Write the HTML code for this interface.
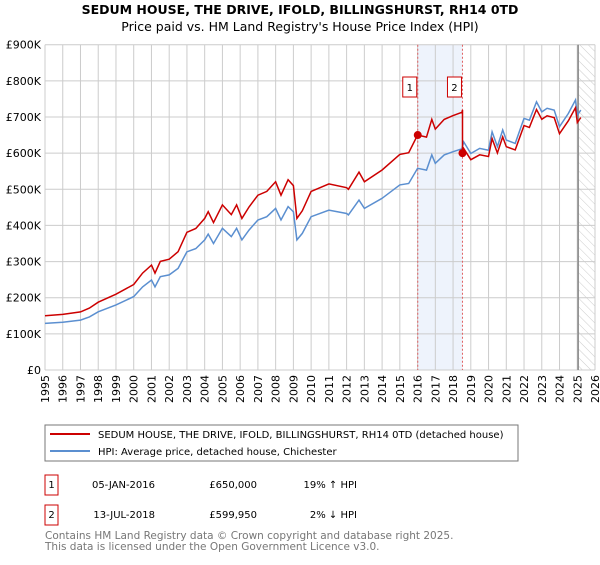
<!DOCTYPE html>
<html><head><meta charset="utf-8"><style>
body{margin:0;background:#fff;font-family:"Liberation Sans","DejaVu Sans",sans-serif;}
svg text{font-family:"DejaVu Sans","Liberation Sans",sans-serif;}
</style></head><body>
<svg id="c" width="600" height="560" xmlns="http://www.w3.org/2000/svg">
<defs><pattern id="hatch" width="6" height="6" patternUnits="userSpaceOnUse" patternTransform="rotate(-45)"><line x1="0" y1="0" x2="0" y2="6" stroke="#ccc" stroke-width="1"/></pattern></defs>
<text x="300" y="14" text-anchor="middle" font-size="12.5" font-weight="bold">SEDUM HOUSE, THE DRIVE, IFOLD, BILLINGSHURST, RH14 0TD</text>
<text x="300" y="31" text-anchor="middle" font-size="12.5">Price paid vs. HM Land Registry's House Price Index (HPI)</text>
<g id="grid"></g>
<g id="marks"></g>
<g>
<rect x="45" y="425" width="473" height="36" fill="#fff" stroke="#777"/>
<line x1="50" y1="434" x2="90" y2="434" stroke="#cc0000" stroke-width="2"/>
<text x="98" y="438" font-size="10">SEDUM HOUSE, THE DRIVE, IFOLD, BILLINGSHURST, RH14 0TD (detached house)</text>
<line x1="50" y1="451" x2="90" y2="451" stroke="#5b8fd0" stroke-width="2"/>
<text x="98" y="455" font-size="10">HPI: Average price, detached house, Chichester</text>
</g>
<g font-size="10">
<rect x="45" y="475" width="13" height="20" fill="#fff" stroke="#cc0000"/><text x="51.5" y="488" text-anchor="middle">1</text>
<text x="155" y="488" text-anchor="end">05-JAN-2016</text><text x="257" y="488" text-anchor="end">£650,000</text><text x="357" y="488" text-anchor="end">19% ↑ HPI</text>
<rect x="45" y="505" width="13" height="20" fill="#fff" stroke="#cc0000"/><text x="51.5" y="518" text-anchor="middle">2</text>
<text x="155" y="518" text-anchor="end">13-JUL-2018</text><text x="257" y="518" text-anchor="end">£599,950</text><text x="357" y="518" text-anchor="end">2% ↓ HPI</text>
</g>
<text x="45" y="539" font-size="10.5" fill="#777">Contains HM Land Registry data © Crown copyright and database right 2025.</text>
<text x="45" y="550" font-size="10.5" fill="#777">This data is licensed under the Open Government Licence v3.0.</text>
</svg>
<script>
const hpiYears=[1995,1996,1997,1997.5,1998,1999,2000,2000.5,2001,2001.2,2001.5,2002,2002.5,2003,2003.5,2004,2004.2,2004.5,2005,2005.5,2005.8,2006.1,2006.5,2007,2007.5,2008,2008.3,2008.7,2009,2009.2,2009.5,2010,2011,2012,2012.1,2012.7,2013,2014,2015,2015.5,2016,2016.5,2016.8,2017,2017.5,2018,2018.5,2018.6,2019,2019.5,2020,2020.2,2020.5,2020.8,2021,2021.5,2022,2022.3,2022.7,2023,2023.3,2023.7,2024,2024.5,2024.9,2025,2025.2];
const hpiValues=[129,132,138,147,161,180,203,230,249,230,258,263,281,327,336,360,376,350,392,369,392,360,387,415,424,447,415,452,438,360,378,424,442,433,429,470,447,475,512,516,558,553,595,572,595,604,612,631,599,613,608,659,618,664,636,627,696,691,742,714,724,719,673,710,747,705,719];
const saleYears=[2016.01,2018.53];
const salePrices=[650,600];
const saleLabels=["1","2"];
const yTicks=[0,100,200,300,400,500,600,700,800,900];
const yTickLabels=["£0","£100K","£200K","£300K","£400K","£500K","£600K","£700K","£800K","£900K"];
const xTicks=[1995,1996,1997,1998,1999,2000,2001,2002,2003,2004,2005,2006,2007,2008,2009,2010,2011,2012,2013,2014,2015,2016,2017,2018,2019,2020,2021,2022,2023,2024,2025,2026];
const X0=45,X1=595,Y0=370,Y1=44.7;
const xs=y=>X0+(y-1995)/31*(X1-X0);
const ys=v=>Y0-v/900*(Y0-Y1);
const NS="http://www.w3.org/2000/svg";
function mk(t,a,p){const e=document.createElementNS(NS,t);for(const k in a)e.setAttribute(k,a[k]);p.appendChild(e);return e;}
const g=document.getElementById('grid'),m=document.getElementById('marks');
const band=mk('rect',{x:xs(saleYears[0]),y:Y1,width:xs(saleYears[1])-xs(saleYears[0]),height:Y0-Y1,fill:'#eef3fc'},g);


const hat=mk('rect',{x:xs(2025.05),y:Y1,width:X1-xs(2025.05),height:Y0-Y1,fill:'url(#hatch)'},g);


yTicks.forEach((v,i)=>{
 const l=mk('line',{x1:X0,x2:X1,y1:ys(v),y2:ys(v),stroke:'#ccc'},g);
 
 
 const t=mk('text',{x:X0-4,y:ys(v)+4,'text-anchor':'end','font-size':'11'},g);
 t.textContent=yTickLabels[i];
 
 
});
xTicks.forEach(v=>{
 const l=mk('line',{x1:xs(v),x2:xs(v),y1:Y1,y2:Y0,stroke:'#ccc'},g);
 
 
 const t=mk('text',{x:0,y:0,'text-anchor':'end','font-size':'11',transform:'translate('+(xs(v)+4)+',375) rotate(-90)'},g);
 t.textContent=v;
 
 
});
const vl=mk('line',{x1:xs(2025.05),x2:xs(2025.05),y1:Y1,y2:Y0,stroke:'#888','stroke-width':1.5},g);


saleYears.forEach((sy,i)=>{
 const l=mk('line',{x1:xs(sy),x2:xs(sy),y1:Y1,y2:Y0,stroke:'#e06060','stroke-dasharray':'2,2'},m);
 
 
});
function hpiAt(y){for(let i=1;i<hpiYears.length;i++)if(y<=hpiYears[i]){const t=(y-hpiYears[i-1])/(hpiYears[i]-hpiYears[i-1]);return hpiValues[i-1]+t*(hpiValues[i]-hpiValues[i-1]);}return hpiValues[hpiValues.length-1];}
const f1=salePrices[0]/hpiAt(saleYears[0]),f2=salePrices[1]/hpiAt(saleYears[1]);
const bp=hpiYears.map((y,i)=>xs(y).toFixed(1)+','+ys(hpiValues[i]).toFixed(1)).join(' ');
const bl=mk('polyline',{points:bp,fill:'none',stroke:'#5b8fd0','stroke-width':1.5},m);


let rp=[];
hpiYears.forEach((y,i)=>{
 if(i>0&&hpiYears[i-1]<saleYears[1]&&y>=saleYears[1]){const h=hpiAt(saleYears[1]);rp.push([saleYears[1],h*f1]);rp.push([saleYears[1],h*f2]);}
 rp.push([y,hpiValues[i]*(y<saleYears[1]?f1:f2)]);
});
const rl=mk('polyline',{points:rp.map(p=>xs(p[0]).toFixed(1)+','+ys(p[1]).toFixed(1)).join(' '),fill:'none',stroke:'#cc0000','stroke-width':1.5},m);


saleYears.forEach((sy,i)=>{
 const c=mk('circle',{cx:xs(sy),cy:ys(salePrices[i]),r:4,fill:'#cc0000'},m);
 
 
 const r=mk('rect',{x:xs(sy)-15,y:77,width:14,height:20,fill:'#fff',stroke:'#cc0000'},m);
 
 
 const t=mk('text',{x:xs(sy)-8,y:91,'text-anchor':'middle','font-size':'10'},m);
 t.textContent=saleLabels[i];
 
 
});
</script>
</body></html>
